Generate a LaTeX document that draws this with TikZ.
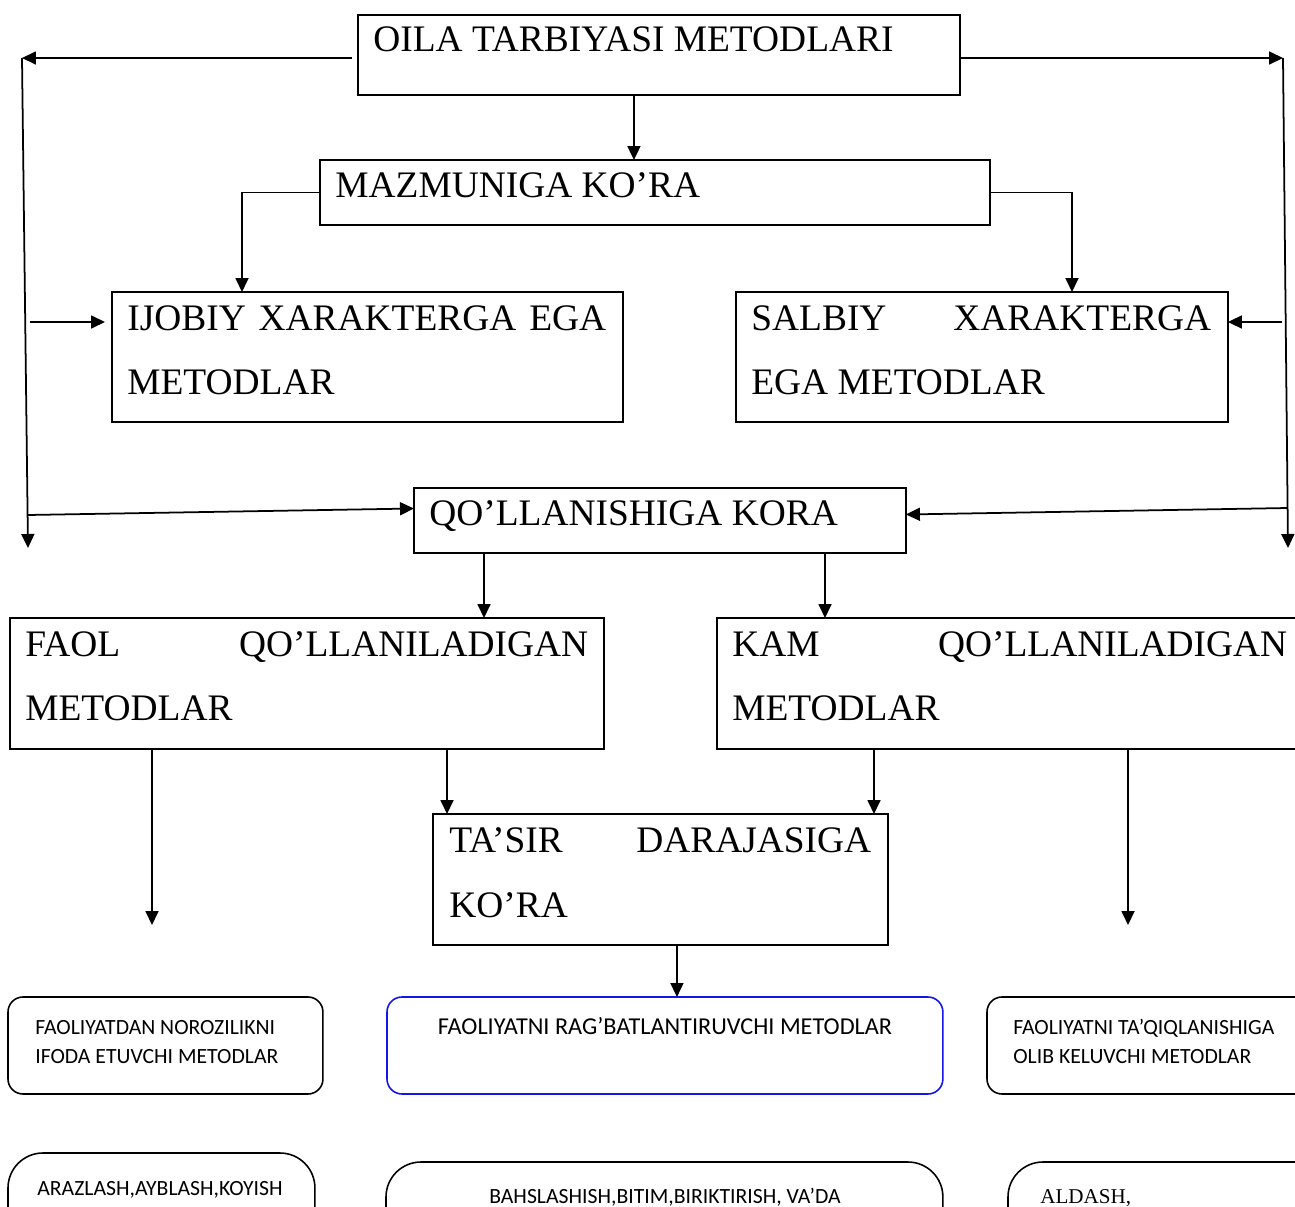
\documentclass[tikz,border=0pt]{standalone}
\usepackage{fontspec}
\setmainfont{Liberation Serif}
\newfontfamily\calibrifont{Carlito}
\usetikzlibrary{arrows.meta,calc}
\definecolor{bblue}{RGB}{20,20,235}
\begin{document}
\begin{tikzpicture}[x=0.02cm,y=-0.02cm,
  box/.style={draw,line width=1.2pt,inner sep=0pt,outer sep=0pt,anchor=north west},
  rbox/.style={draw,line width=0.9pt,inner sep=0pt,outer sep=0pt,anchor=north west,rounded corners=0.3cm},
  rboxb/.style={draw,line width=0.9pt,inner sep=0pt,outer sep=0pt,anchor=north west,rounded corners=0.7cm},
  big/.style={font=\fontsize{21.3}{25}\selectfont,inner sep=0pt,anchor=base west},
  small/.style={font=\calibrifont\fontsize{12.35}{14}\selectfont,inner sep=0pt,anchor=base west},
  arr/.style={line width=1pt,-{Triangle[length=0.28cm,width=0.26cm]}}]
\useasboundingbox (0,0) rectangle (1295,1207);
\clip (0,0) rectangle (1295,1207);
% boxes
\node[box,minimum width=12.04cm,minimum height=1.6cm] (oila) at (358,15) {};
\node[box,minimum width=13.4cm,minimum height=1.3cm] (maz) at (320,160) {};
\node[box,minimum width=10.22cm,minimum height=2.6cm] (ijo) at (112,292) {};
\node[box,minimum width=9.84cm,minimum height=2.6cm] (sal) at (736,292) {};
\node[box,minimum width=9.84cm,minimum height=1.3cm] (qol) at (414,488) {};
\node[box,minimum width=11.88cm,minimum height=2.62cm] (fao) at (10,618) {};
\node[box,minimum width=12.26cm,minimum height=2.62cm] (kam) at (717,618) {};
\node[box,minimum width=9.1cm,minimum height=2.62cm] (tas) at (433,814) {};
\node[rbox,minimum width=6.3cm,minimum height=1.94cm] (rl1) at (8,997) {};
\node[rbox,draw=bblue,minimum width=11.12cm,minimum height=1.94cm] (rm1) at (387,997) {};
\node[rbox,minimum width=6.86cm,minimum height=1.94cm] (rr1) at (987,997) {};
\node[rboxb,minimum width=6.14cm,minimum height=2.14cm] (rl2) at (8,1153) {};
\node[rboxb,minimum width=11.14cm,minimum height=2.16cm] (rm2) at (386,1162) {};
\node[rboxb,minimum width=6.64cm,minimum height=2.16cm] (rr2) at (1008,1162) {};
% texts
\node[big] (toila) at (373,51) {OILA TARBIYASI METODLARI};
\node[big] (tmaz) at (335,197) {MAZMUNIGA KO’RA};
\node[big] (tijo1) at (127,330) {\makebox[9.58cm][s]{IJOBIY XARAKTERGA EGA}};
\node[big] (tijo2) at (127,394) {METODLAR};
\node[big] (tsal1) at (751,330) {\makebox[9.2cm][s]{SALBIY XARAKTERGA}};
\node[big] (tsal2) at (751,394) {EGA METODLAR};
\node[big] (tqol) at (429,525) {QO’LLANISHIGA KORA};
\node[big] (tfao1) at (25,656) {\makebox[11.26cm][s]{FAOL QO’LLANILADIGAN}};
\node[big] (tfao2) at (25,720) {METODLAR};
\node[big] (tkam1) at (732,656) {\makebox[11.1cm][s]{KAM QO’LLANILADIGAN}};
\node[big] (tkam2) at (732,720) {METODLAR};
\node[big] (ttas1) at (449,852) {\makebox[8.44cm][s]{TA’SIR DARAJASIGA}};
\node[big] (ttas2) at (449,917) {KO’RA};
\node[small] (trl1a) at (35,1034) {FAOLIYATDAN NOROZILIKNI};
\node[small] (trl1b) at (35,1063) {IFODA ETUVCHI METODLAR};
\node[small,anchor=base,font=\calibrifont\fontsize{13.8}{16}\selectfont] (trm1) at (665,1034) {FAOLIYATNI RAG’BATLANTIRUVCHI METODLAR};
\node[small] (trr1a) at (1013,1034) {FAOLIYATNI TA’QIQLANISHIGA};
\node[small] (trr1b) at (1013,1063) {OLIB KELUVCHI METODLAR};
\node[small,anchor=base] (trl2) at (160,1195) {ARAZLASH,AYBLASH,KOYISH};
\node[small,anchor=base] (trm2) at (665,1203) {BAHSLASHISH,BITIM,BIRIKTIRISH, VA’DA};
\node[font=\fontsize{12}{14}\selectfont,inner sep=0pt,anchor=base west] (trr2) at (1040,1203) {ALDASH,};
% inner connectors
\coordinate (a1) at ($(oila.south)+(-25,0)$);
\draw[arr] (a1) -- (a1 |- maz.north);
\draw[arr] (maz.west) -| ($(ijo.north west)+(130,0)$);
\draw[arr] (maz.east) -| ($(sal.north west)+(336,0)$);
\coordinate (a2) at ($(qol.south west)+(70,0)$);
\draw[arr] (a2) -- (a2 |- fao.north);
\coordinate (a3) at ($(qol.south west)+(411,0)$);
\draw[arr] (a3) -- (a3 |- kam.north);
\coordinate (a4) at ($(fao.south west)+(142,0)$);
\coordinate (e4) at (152,925);
\draw[arr] (a4) -- (e4);
\coordinate (a5) at ($(fao.south west)+(437,0)$);
\draw[arr] (a5) -- (a5 |- tas.north);
\coordinate (a6) at ($(kam.south west)+(157,0)$);
\draw[arr] (a6) -- (a6 |- tas.north);
\coordinate (a7) at ($(kam.south west)+(411,0)$);
\coordinate (e7) at (1128,925);
\draw[arr] (a7) -- (e7);
\coordinate (a8) at ($(tas.south)+(16.5,0)$);
\draw[arr] (a8) -- (a8 |- rm1.north);
% outer loops
\coordinate (L1) at (22,58);
\coordinate (L2) at (28,548);
\coordinate (L3) at (27.6,515);
\coordinate (L4) at (30,322);
\draw[arr] ($(oila.west |- L1)+(-6,0)$) -- (L1);
\draw[arr] (L1) -- (L2);
\draw[arr,shorten >=0.14cm] (L4) -- (ijo.west |- L4);
\draw[arr] (L3) -- ($(qol.west)+(0,-12)$);
\coordinate (R1) at (1283,58);
\coordinate (R2) at (1288,548);
\coordinate (R3) at (1287.6,508);
\coordinate (R4) at (1282,322);
\draw[arr] (oila.east |- R1) -- (R1);
\draw[arr] (R1) -- (R2);
\draw[arr] (R4) -- (sal.east |- R4);
\draw[arr] (R3) -- ($(qol.east)+(0,-6)$);
\end{tikzpicture}
\end{document}
